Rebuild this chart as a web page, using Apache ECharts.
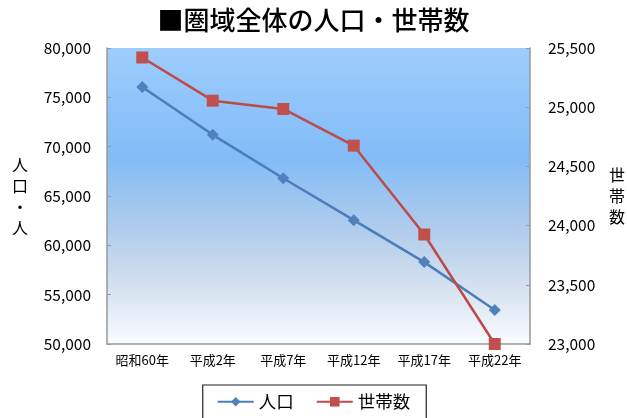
<!DOCTYPE html>
<html><head><meta charset="utf-8">
<script src="https://cdn.jsdelivr.net/npm/echarts@6/dist/echarts.min.js"></script>
<style>html,body{margin:0;padding:0;background:#fff}#c{width:627px;height:418px}</style>
</head><body><div id="c"></div>
<script>
const categories = ['昭和60年','平成2年','平成7年','平成12年','平成17年','平成22年'];
const population = [76050, 71200, 66800, 62550, 58300, 53450];
const households = [25420, 25055, 24985, 24675, 23925, 23000];
const leftTicks = {min:50000, max:80000, interval:5000};
const rightTicks = {min:23000, max:25500, interval:500};
const font = '"Noto Sans CJK JP", sans-serif';
const chart = echarts.init(document.getElementById('c'));
chart.setOption({
  animation:false,
  title:{text:'■圏域全体の人口・世帯数', left:'center', top:2,
    textStyle:{fontFamily:font, fontSize:26, fontWeight:500, color:'#000'}},
  grid:{left:107, right:97, top:48, bottom:74, show:true, borderWidth:0,
    outerBoundsMode:'none', containLabel:false,
    backgroundColor:{type:'linear',x:0,y:0,x2:0,y2:1,colorStops:[
      {offset:0,color:'#9dcdfc'},{offset:0.37,color:'#82bcf7'},{offset:0.6,color:'#aecbec'},
      {offset:0.8,color:'#d3e0ef'},{offset:1,color:'#fafcff'}]}},
  legend:{top:385, left:'center', data:['人口','世帯数'], itemWidth:36, itemHeight:12, itemGap:22,
    borderColor:'#222', borderWidth:1.2, padding:[8,16,12,14],
    textStyle:{fontFamily:font, fontSize:17.5, color:'#000'}},
  xAxis:{type:'category', data:categories, boundaryGap:true,
    axisLine:{lineStyle:{color:'#999', width:1.5}},
    axisTick:{inside:true, length:4, lineStyle:{color:'#999'}},
    axisLabel:{fontFamily:font, fontSize:13, color:'#000', margin:10, interval:0}},
  yAxis:[
    {type:'value', min:leftTicks.min, max:leftTicks.max, interval:leftTicks.interval,
     name:'人\n口\n・\n人', nameLocation:'middle', nameGap:79, nameRotate:0,
     nameTextStyle:{fontFamily:font, fontSize:16, color:'#000', lineHeight:21},
     axisLine:{show:true, lineStyle:{color:'#999', width:1.5}},
     axisTick:{show:true, inside:true, length:4, lineStyle:{color:'#999'}},
     splitLine:{show:false},
     axisLabel:{fontFamily:font, fontSize:15.5, color:'#000', margin:16,
       formatter:v=>v.toLocaleString('en-US')}},
    {type:'value', min:rightTicks.min, max:rightTicks.max, interval:rightTicks.interval,
     name:'世\n帯\n数', nameLocation:'middle', nameGap:79, nameRotate:0,
     nameTextStyle:{fontFamily:font, fontSize:16, color:'#000', lineHeight:21},
     axisLine:{show:true, lineStyle:{color:'#999', width:1.5}},
     axisTick:{show:true, inside:true, length:4, lineStyle:{color:'#999'}},
     splitLine:{show:false},
     axisLabel:{fontFamily:font, fontSize:15.5, color:'#000', margin:18,
       formatter:v=>v.toLocaleString('en-US')}}
  ],
  series:[
    {name:'人口', type:'line', yAxisIndex:0, data:population, symbol:'diamond', symbolSize:12,
     lineStyle:{color:'#4a7ebb', width:2.5}, itemStyle:{color:'#4f81bd'}},
    {name:'世帯数', type:'line', yAxisIndex:1, data:households, symbol:'rect', symbolSize:12,
     lineStyle:{color:'#be4b48', width:2.5}, itemStyle:{color:'#c0504d'}}
  ]
});
</script></body></html>
